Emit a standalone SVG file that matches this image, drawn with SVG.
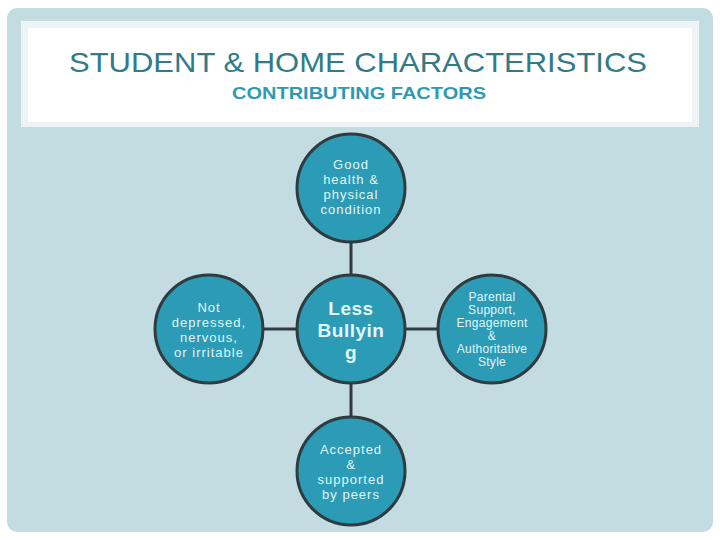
<svg xmlns="http://www.w3.org/2000/svg" width="720" height="540" viewBox="0 0 720 540">
<style>
.node circle{fill:#2b9bb6;stroke:#2f3b3f;stroke-width:3}
.node text{font-family:"Liberation Sans",Arial,sans-serif;fill:#e2f6f9;text-anchor:middle}
.sm{font-size:13px;letter-spacing:1px}
.rt{font-size:12px;letter-spacing:0.3px}
.big{font-size:19px;font-weight:bold;letter-spacing:0.5px}
#connectors line{stroke:#2f3b3f;stroke-width:3}
</style>
<rect x="0" y="0" width="720" height="540" fill="#ffffff"/>
<rect x="7" y="8" width="706" height="524" rx="10" fill="#c3dce2"/>
<rect x="21" y="21" width="678" height="106" fill="#edf4f6"/>
<rect x="28" y="28" width="664" height="94" fill="#ffffff"/>
<text x="358" y="72" font-family="'Liberation Sans',Arial,sans-serif" font-size="28" fill="#2f7b87" text-anchor="middle" textLength="578" lengthAdjust="spacingAndGlyphs">STUDENT &amp; HOME CHARACTERISTICS</text>
<text x="359" y="99" font-family="'Liberation Sans',Arial,sans-serif" font-size="17" font-weight="bold" fill="#2e9ab2" text-anchor="middle" textLength="254" lengthAdjust="spacingAndGlyphs">CONTRIBUTING FACTORS</text>
<g id="connectors">
<line x1="351" y1="242" x2="351" y2="276"/>
<line x1="351" y1="383" x2="351" y2="417"/>
<line x1="263" y1="329" x2="297" y2="329"/>
<line x1="405" y1="329" x2="438" y2="329"/>
</g>
<g id="node-health" class="node">
<circle cx="351" cy="188" r="54"/>
<text class="sm"><tspan x="351" y="169">Good</tspan><tspan x="351" y="184">health &amp;</tspan><tspan x="351" y="199">physical</tspan><tspan x="351" y="214">condition</tspan></text>
</g>
<g id="node-bullying" class="node">
<circle cx="351" cy="329" r="54"/>
<text class="big"><tspan x="351" y="315">Less</tspan><tspan x="351" y="337">Bullyin</tspan><tspan x="351" y="359">g</tspan></text>
</g>
<g id="node-depressed" class="node">
<circle cx="209" cy="329" r="54"/>
<text class="sm"><tspan x="209" y="312">Not</tspan><tspan x="209" y="327">depressed,</tspan><tspan x="209" y="342">nervous,</tspan><tspan x="209" y="357">or irritable</tspan></text>
</g>
<g id="node-parental" class="node">
<circle cx="492" cy="329" r="54"/>
<text class="rt"><tspan x="492" y="301">Parental</tspan><tspan x="492" y="314">Support,</tspan><tspan x="492" y="327">Engagement</tspan><tspan x="492" y="340">&amp;</tspan><tspan x="492" y="353">Authoritative</tspan><tspan x="492" y="366">Style</tspan></text>
</g>
<g id="node-peers" class="node">
<circle cx="351" cy="471" r="54"/>
<text class="sm"><tspan x="351" y="454">Accepted</tspan><tspan x="351" y="469">&amp;</tspan><tspan x="351" y="484">supported</tspan><tspan x="351" y="499">by peers</tspan></text>
</g>
</svg>
